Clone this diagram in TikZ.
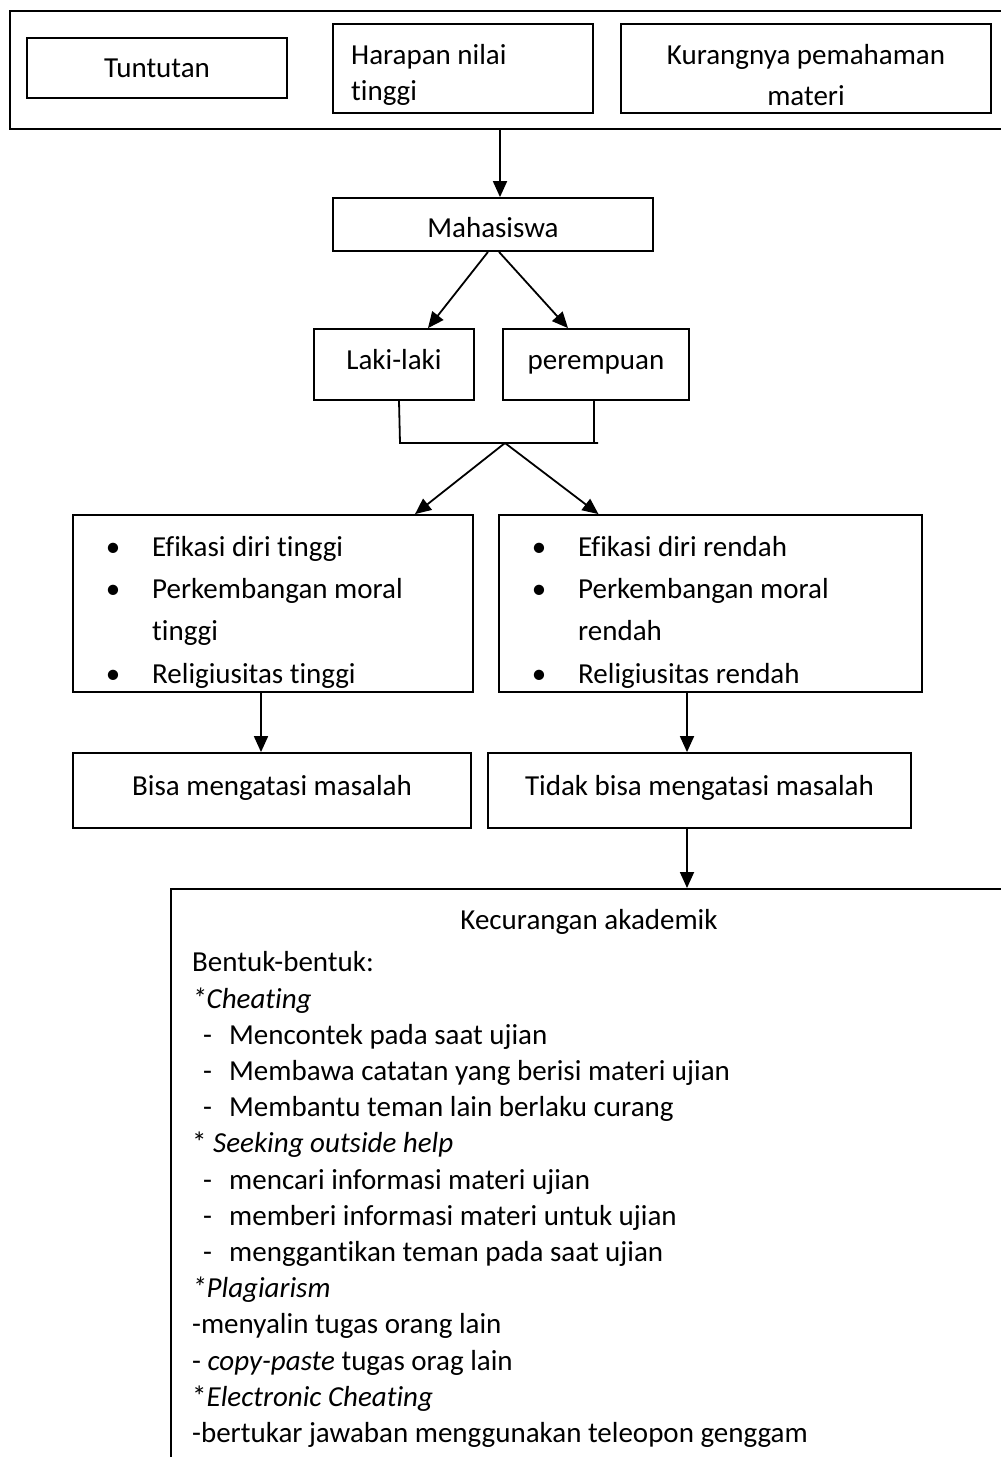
\documentclass[tikz,border=0pt]{standalone}
\usepackage{fontspec}
\setmainfont{Carlito}[Ligatures={NoCommon}]
\usetikzlibrary{arrows.meta,calc}
\tikzset{
  bx/.style={draw, line width=1.8pt, inner sep=0pt, fill=white},
  arr/.style={line width=1.8pt, -{Triangle[length=16pt,width=14pt]}},
  ln/.style={line width=1.8pt},
  tl/.style={anchor=base west, inner sep=0pt},
  tc/.style={anchor=base, inner sep=0pt},
}
\begin{document}
\begin{tikzpicture}[x=1pt,y=-1pt,font=\fontsize{29}{36}\selectfont]
\useasboundingbox (0,0) rectangle (1001,1457);
\fill[white] (0,0) rectangle (1001,1457);
% top container
\node[bx, minimum width=1020pt, minimum height=118pt, anchor=north west] (top) at (9,10) {};
\node[bx, minimum width=260pt, minimum height=60pt] (tun) at (157,68) {};
\node[tc] (tunt) at (157,77) {Tuntutan};
\node[bx, minimum width=260pt, minimum height=89pt] (har) at (463,68.5) {};
\node[tl] (hart1) at (351,64) {Harapan nilai};
\node[tl] (hart2) at (351,100) {tinggi};
\node[bx, minimum width=370pt, minimum height=89pt] (kur) at (806,68.5) {};
\node[tc] (kurt1) at (806,64) {Kurangnya pemahaman};
\node[tc] (kurt2) at (806,105) {materi};
% Mahasiswa
\node[bx, minimum width=320pt, minimum height=53pt] (mah) at (493,224.5) {};
\node[tc] (maht) at (493,237) {Mahasiswa};
\draw[arr] ([xshift=7pt]mah.north |- top.south) -- ([xshift=7pt]mah.north);
% gender
\node[bx, minimum width=160pt, minimum height=71pt] (lak) at (394,364.5) {};
\node[tc] (lakt) at (394,369) {Laki-laki};
\node[bx, minimum width=186pt, minimum height=71pt] (per) at (596,364.5) {};
\node[tc] (pert) at (596,369) {perempuan};
\draw[arr] ([xshift=-5pt]mah.south) -- ([xshift=34pt]lak.north);
\draw[arr] ([xshift=6pt]mah.south) -- ([xshift=-28pt]per.north);
% bracket
\coordinate (j) at (505,443);
\draw[ln] ([xshift=5pt]lak.south) -- ([xshift=6pt]lak.south |- j) -- ([xshift=2pt]per.south |- j);
\draw[ln] ([xshift=-2pt]per.south) -- ([xshift=-2pt]per.south |- j);
% characteristic boxes
\node[bx, minimum width=400pt, minimum height=177pt] (lb) at (273,603.5) {};
\node[bx, minimum width=423pt, minimum height=177pt] (rb) at (710.5,603.5) {};
\draw[arr] (j) -- ([xshift=142pt]lb.north);
\draw[arr] (j) -- ([xshift=-112pt]rb.north);
\begin{scope}
\clip (lb.north west) rectangle (473,688);
\node[tc] (lb1) at (113,556) {•};
\node[tl] (lt1) at (152,556) {Efikasi diri tinggi};
\node[tc] (lb2) at (113,598) {•};
\node[tl] (lt2) at (152,598) {Perkembangan moral};
\node[tl] (lt3) at (152,640) {tinggi};
\node[tc] (lb4) at (113,683) {•};
\node[tl] (lt4) at (152,683) {Religiusitas tinggi};
\end{scope}
\begin{scope}
\clip (rb.north west) rectangle (922,688);
\node[tc] (rb1) at (539,556) {•};
\node[tl] (rt1) at (578,556) {Efikasi diri rendah};
\node[tc] (rb2) at (539,598) {•};
\node[tl] (rt2) at (578,598) {Perkembangan moral};
\node[tl] (rt3) at (578,640) {rendah};
\node[tc] (rb4) at (539,683) {•};
\node[tl] (rt4) at (578,683) {Religiusitas rendah};
\end{scope}
% outcome boxes
\node[bx, minimum width=398pt, minimum height=75pt] (bis) at (272,790.5) {};
\node[tc] (bist) at (272,795) {Bisa mengatasi masalah};
\node[bx, minimum width=423pt, minimum height=75pt] (tid) at (699.5,790.5) {};
\node[tc] (tidt) at (699.5,795) {Tidak bisa mengatasi masalah};
\draw[arr] ([xshift=-12pt]lb.south) -- ([xshift=-11pt]bis.north);
\draw[arr] ([xshift=-23.5pt]rb.south) -- ([xshift=-12.5pt]tid.north);
% bottom box
\node[bx, minimum width=860pt, minimum height=600pt, anchor=north west] (kec) at (170,888) {};
\draw[arr] ([xshift=-12.5pt]tid.south) -- ([xshift=-12.5pt]tid.south |- kec.north);
\node[tc] (k0) at (589,929) {Kecurangan akademik};
\node[tl] (k1) at (192,971) {Bentuk-bentuk:};
\node[tl] (k2) at (192,1008) {\itshape *Cheating};
\node[tl] (k3d) at (203,1044.2) {-};
\node[tl] (k3) at (229,1044.2) {Mencontek pada saat ujian};
\node[tl] (k4d) at (203,1080.4) {-};
\node[tl] (k4) at (229,1080.4) {Membawa catatan yang berisi materi ujian};
\node[tl] (k5d) at (203,1116.6) {-};
\node[tl] (k5) at (229,1116.6) {Membantu teman lain berlaku curang};
\node[tl] (k6) at (192,1152.8) {* \textit{Seeking outside help}};
\node[tl] (k7d) at (203,1189) {-};
\node[tl] (k7) at (229,1189) {mencari informasi materi ujian};
\node[tl] (k8d) at (203,1225.2) {-};
\node[tl] (k8) at (229,1225.2) {memberi informasi materi untuk ujian};
\node[tl] (k9d) at (203,1261.4) {-};
\node[tl] (k9) at (229,1261.4) {menggantikan teman pada saat ujian};
\node[tl] (k10) at (192,1297.6) {\itshape *Plagiarism};
\node[tl] (k11) at (192,1333.8) {-menyalin tugas orang lain};
\node[tl] (k12) at (192,1370) {- \textit{copy-paste} tugas orag lain};
\node[tl] (k13) at (192,1406.2) {*\textit{Electronic Cheating}};
\node[tl] (k14) at (192,1442.4) {-bertukar jawaban menggunakan teleopon genggam};
\end{tikzpicture}
\end{document}
